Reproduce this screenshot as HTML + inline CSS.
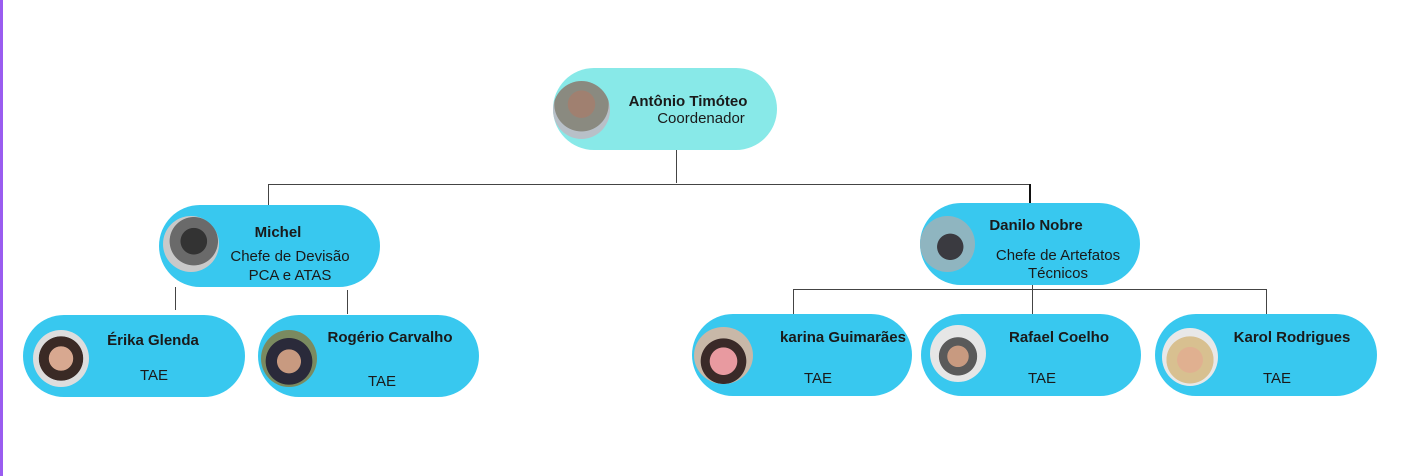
<!DOCTYPE html>
<html><head><meta charset="utf-8"><style>
html,body{margin:0;padding:0}
body{width:1412px;height:476px;position:relative;background:#fff;overflow:hidden;font-family:"Liberation Sans",sans-serif;color:#1a1a1a}
.bar{position:absolute;left:0;top:0;width:3px;height:476px;background:#9a5cf0}
.n{position:absolute;border-radius:42px;background:#38c8ef}
.p{position:absolute;border-radius:50%;overflow:hidden}
.t{position:absolute;font-size:15px;white-space:nowrap;text-align:center;transform:translateX(-50%)}
.b{font-weight:bold}
.l{position:absolute;background:#444}
</style></head><body>
<div class="bar"></div>
<div class="l" style="left:676px;top:150px;width:1px;height:33px"></div>
<div class="l" style="left:268px;top:184px;width:763px;height:1px"></div>
<div class="l" style="left:268px;top:184px;width:1px;height:26px"></div>
<div class="l" style="left:1029px;top:184px;width:2px;height:21px;background:#111"></div>
<div class="l" style="left:175px;top:287px;width:1px;height:23px"></div>
<div class="l" style="left:347px;top:290px;width:1px;height:24px"></div>
<div class="l" style="left:793px;top:289px;width:473px;height:1px"></div>
<div class="l" style="left:793px;top:289px;width:1px;height:27px"></div>
<div class="l" style="left:1032px;top:285px;width:1px;height:29px"></div>
<div class="l" style="left:1266px;top:289px;width:1px;height:25px"></div>

<div class="n" style="left:553px;top:68px;width:224px;height:82px;background:#88e9e8"></div>
<div class="p" style="left:553px;top:81px;width:57px;height:58px;background:radial-gradient(circle at 50% 40%,#a08070 0 30%,#8a8a80 31% 60%,#b8c0c8 61%)"></div>
<div class="t b" style="left:688px;top:93px">Antônio Timóteo</div>
<div class="t" style="left:701px;top:110px">Coordenador</div>

<div class="n" style="left:159px;top:205px;width:221px;height:82px"></div>
<div class="p" style="left:163px;top:216px;width:56px;height:56px;background:radial-gradient(circle at 55% 45%,#333 0 30%,#6a6a6a 31% 55%,#c9c9c9 56%)"></div>
<div class="t b" style="left:278px;top:224px">Michel</div>
<div class="t" style="left:290px;top:248px">Chefe de Devisão</div>
<div class="t" style="left:290px;top:267px">PCA e ATAS</div>

<div class="n" style="left:920px;top:203px;width:220px;height:82px"></div>
<div class="p" style="left:920px;top:216px;width:55px;height:56px;background:radial-gradient(circle at 55% 55%,#3a3a40 0 30%,#8fb5c0 31%)"></div>
<div class="t b" style="left:1036px;top:217px">Danilo Nobre</div>
<div class="t" style="left:1058px;top:247px">Chefe de Artefatos</div>
<div class="t" style="left:1058px;top:265px">Técnicos</div>

<div class="n" style="left:23px;top:315px;width:222px;height:82px"></div>
<div class="p" style="left:33px;top:330px;width:56px;height:57px;background:radial-gradient(circle at 50% 50%,#d8a890 0 30%,#3a2a25 31% 55%,#ddd 56%)"></div>
<div class="t b" style="left:153px;top:332px">Érika Glenda</div>
<div class="t" style="left:154px;top:367px">TAE</div>

<div class="n" style="left:258px;top:315px;width:221px;height:82px"></div>
<div class="p" style="left:261px;top:330px;width:56px;height:57px;background:radial-gradient(circle at 50% 55%,#c89a80 0 28%,#2a2a3a 29% 55%,#7a8a60 56%)"></div>
<div class="t b" style="left:390px;top:329px">Rogério Carvalho</div>
<div class="t" style="left:382px;top:373px">TAE</div>

<div class="n" style="left:692px;top:314px;width:220px;height:82px"></div>
<div class="p" style="left:694px;top:327px;width:59px;height:57px;background:radial-gradient(circle at 50% 60%,#e89aa0 0 30%,#3a2a28 31% 50%,#c8b8a8 51%)"></div>
<div class="t b" style="left:843px;top:329px">karina Guimarães</div>
<div class="t" style="left:818px;top:370px">TAE</div>

<div class="n" style="left:921px;top:314px;width:220px;height:82px"></div>
<div class="p" style="left:930px;top:325px;width:56px;height:57px;background:radial-gradient(circle at 50% 55%,#c89a80 0 25%,#5a5a5a 26% 45%,#e6e6e6 46%)"></div>
<div class="t b" style="left:1059px;top:329px">Rafael Coelho</div>
<div class="t" style="left:1042px;top:370px">TAE</div>

<div class="n" style="left:1155px;top:314px;width:222px;height:82px"></div>
<div class="p" style="left:1162px;top:328px;width:56px;height:58px;background:radial-gradient(circle at 50% 55%,#e0b090 0 30%,#d8c090 31% 55%,#e8e8e8 56%)"></div>
<div class="t b" style="left:1292px;top:329px">Karol Rodrigues</div>
<div class="t" style="left:1277px;top:370px">TAE</div>
</body></html>
